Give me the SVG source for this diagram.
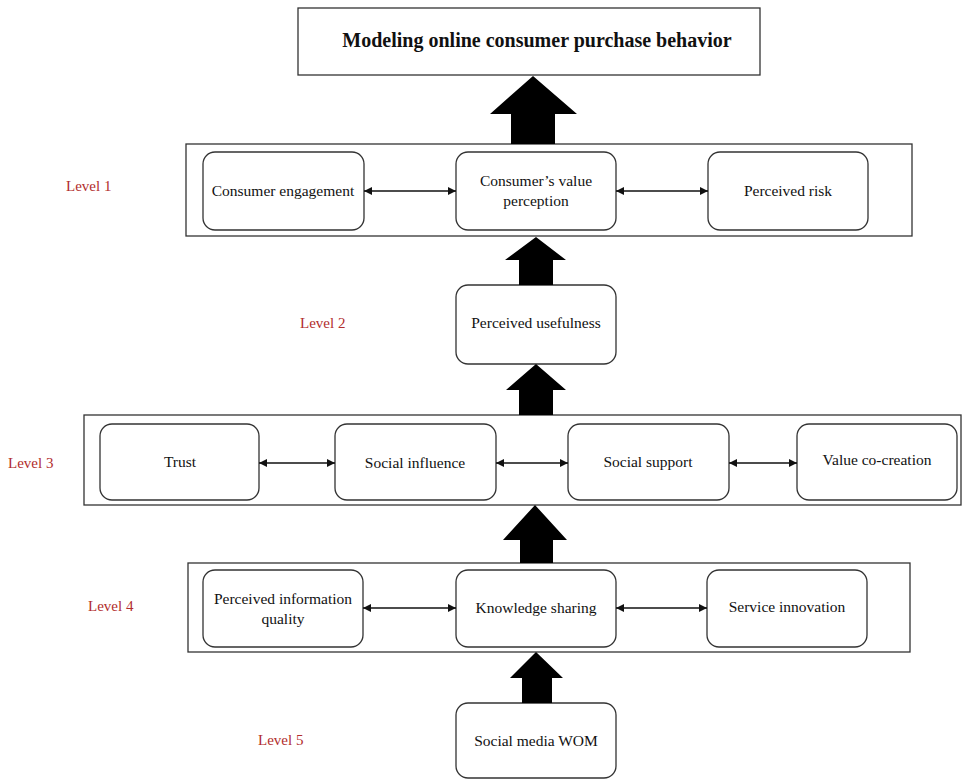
<svg xmlns="http://www.w3.org/2000/svg" width="963" height="780" viewBox="0 0 963 780">
<style>
.bg{fill:#fff}
.cont{fill:#fff;stroke:#333;stroke-width:1.3}
.node{fill:#fff;stroke:#333;stroke-width:1.3}
.t{font-family:"Liberation Serif","Times New Roman",serif;font-size:15.5px;fill:#111;text-anchor:middle}
.title{font-family:"Liberation Serif","Times New Roman",serif;font-size:20px;font-weight:bold;fill:#111;text-anchor:middle}
.lvl{font-family:"Liberation Serif","Times New Roman",serif;font-size:15px;fill:#b22d2d}
.dbl{stroke:#111;stroke-width:1.3;fill:none;marker-start:url(#ah);marker-end:url(#ah)}
.big{fill:#000}
</style>
<defs>
<marker id="ah" viewBox="0 0 10 10" refX="10" refY="5" markerWidth="8" markerHeight="8" markerUnits="userSpaceOnUse" orient="auto-start-reverse">
<path d="M0,0 L10,5 L0,10 z" fill="#111"/>
</marker>
</defs>
<rect class="bg" x="0" y="0" width="963" height="780"/>

<g id="containers">
<rect class="cont" x="186" y="144" width="726" height="92"/>
<rect class="cont" x="84" y="415" width="877" height="90"/>
<rect class="cont" x="188" y="563" width="722" height="89"/>
</g>

<g id="title"><rect class="node" x="298" y="8" width="462" height="67"/><text class="title" x="537" y="47">Modeling online consumer purchase behavior</text></g>

<g id="labels">
<text class="lvl" x="66" y="191">Level 1</text>
<text class="lvl" x="300" y="328">Level 2</text>
<text class="lvl" x="8" y="468">Level 3</text>
<text class="lvl" x="88" y="611">Level 4</text>
<text class="lvl" x="258" y="745">Level 5</text>
</g>

<g id="n-engagement"><rect class="node" x="203" y="152" width="161" height="78" rx="12"/><text class="t" x="283" y="196">Consumer engagement</text></g>
<g id="n-value"><rect class="node" x="456" y="152" width="160" height="78" rx="12"/><text class="t" x="536" y="186">Consumer’s value</text><text class="t" x="536" y="206">perception</text></g>
<g id="n-risk"><rect class="node" x="708" y="152" width="160" height="78" rx="12"/><text class="t" x="788" y="196">Perceived risk</text></g>

<g id="n-usefulness"><rect class="node" x="456" y="285" width="160" height="79" rx="12"/><text class="t" x="536" y="328">Perceived usefulness</text></g>

<g id="n-trust"><rect class="node" x="100" y="424" width="159" height="76" rx="12"/><text class="t" x="180" y="467">Trust</text></g>
<g id="n-influence"><rect class="node" x="335" y="424" width="161" height="76" rx="12"/><text class="t" x="415" y="468">Social influence</text></g>
<g id="n-support"><rect class="node" x="568" y="424" width="161" height="76" rx="12"/><text class="t" x="648" y="467">Social support</text></g>
<g id="n-cocreation"><rect class="node" x="797" y="424" width="160" height="76" rx="12"/><text class="t" x="877" y="465">Value co-creation</text></g>

<g id="n-infoquality"><rect class="node" x="203" y="570" width="160" height="77" rx="12"/><text class="t" x="283" y="604">Perceived information</text><text class="t" x="283" y="624">quality</text></g>
<g id="n-knowledge"><rect class="node" x="456" y="570" width="160" height="77" rx="12"/><text class="t" x="536" y="613">Knowledge sharing</text></g>
<g id="n-innovation"><rect class="node" x="707" y="570" width="160" height="77" rx="12"/><text class="t" x="787" y="612">Service innovation</text></g>

<g id="n-wom"><rect class="node" x="456" y="703" width="160" height="75" rx="12"/><text class="t" x="536" y="746">Social media WOM</text></g>

<g id="connectors">
<line class="dbl" x1="364" y1="191" x2="456" y2="191"/>
<line class="dbl" x1="616" y1="191" x2="708" y2="191"/>
<line class="dbl" x1="259" y1="463" x2="335" y2="463"/>
<line class="dbl" x1="496" y1="463" x2="568" y2="463"/>
<line class="dbl" x1="729" y1="463" x2="797" y2="463"/>
<line class="dbl" x1="363" y1="608" x2="456" y2="608"/>
<line class="dbl" x1="616" y1="608" x2="707" y2="608"/>
<polygon class="big" points="511,144 511,114 490,114 533,76 577,114 555,114 555,144"/>
<polygon class="big" points="519,285 519,260 505,260 536,237 566,260 553,260 553,285"/>
<polygon class="big" points="519,415 519,390 506,390 536,364 566,390 553,390 553,415"/>
<polygon class="big" points="520,563 520,540 503,540 535,505 567,540 553,540 553,563"/>
<polygon class="big" points="522,703 522,678 510,678 536,652 563,678 552,678 552,703"/>
</g>
</svg>
